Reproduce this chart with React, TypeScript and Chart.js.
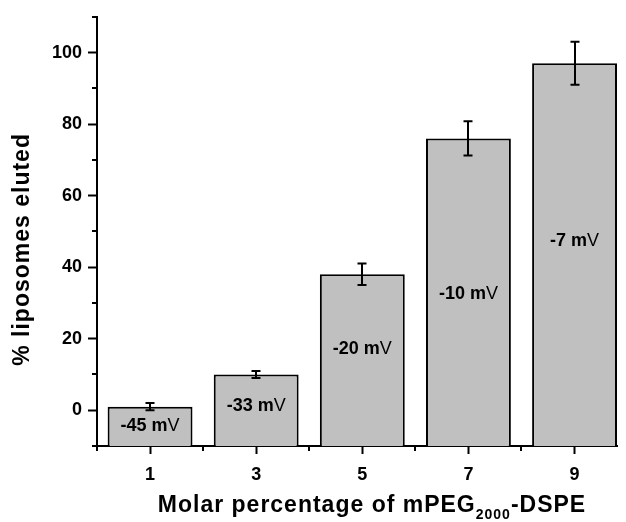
import React, { useEffect, useRef } from 'react';
import { Chart, registerables } from 'chart.js';

Chart.register(...registerables);

const categories = [1, 3, 5, 7, 9];
const eluted = [1, 10, 38, 76, 97];
const errors = [1, 1, 3, 4.8, 6];
const zetaLabels = ['-45 mV', '-33 mV', '-20 mV', '-10 mV', '-7 mV'];
const zetaLabelAt = [-4.5, 1.1, 17.2, 32.5, 47.4];
const xLabelValues = [1, 3, 5, 7, 9];
const xMinorValues = [0, 2, 4, 6, 8];
const yLabelValues = [0, 20, 40, 60, 80, 100];
const yMinorValues = [-10, 10, 30, 50, 70, 90, 110];
const xTitleMain = 'Molar percentage of mPEG';
const xTitleSub = '2000';
const xTitleEnd = '-DSPE';
const yTitle = '% liposomes eluted';

const FONT = '"Liberation Sans", Arial, Helvetica, sans-serif';

const overlay = {
  id: 'overlay',
  afterDatasetsDraw(chart: any) {
    const ctx = chart.ctx;
    const xs = chart.scales.x;
    const ys = chart.scales.y;
    ctx.save();
    ctx.strokeStyle = '#000';
    ctx.lineWidth = 2;
    categories.forEach((c, i) => {
      const px = Math.round(xs.getPixelForValue(c));
      const top = ys.getPixelForValue(eluted[i] + errors[i]);
      const bot = ys.getPixelForValue(eluted[i] - errors[i]);
      ctx.beginPath();
      ctx.moveTo(px, top);
      ctx.lineTo(px, bot);
      ctx.moveTo(px - 4.5, top);
      ctx.lineTo(px + 4.5, top);
      ctx.moveTo(px - 4.5, bot);
      ctx.lineTo(px + 4.5, bot);
      ctx.stroke();
    });
    ctx.fillStyle = '#000';
    ctx.textBaseline = 'middle';
    ctx.textAlign = 'left';
    zetaLabels.forEach((lab, i) => {
      const a = lab.slice(0, -1);
      const b = lab.slice(-1);
      ctx.font = `bold 18px ${FONT}`;
      const wa = ctx.measureText(a).width;
      ctx.font = `18px ${FONT}`;
      const wb = ctx.measureText(b).width;
      const cx = xs.getPixelForValue(categories[i]);
      const cy = ys.getPixelForValue(zetaLabelAt[i]);
      const sx = cx - (wa + wb) / 2;
      ctx.font = `bold 18px ${FONT}`;
      ctx.fillText(a, sx, cy);
      ctx.font = `18px ${FONT}`;
      ctx.fillText(b, sx + wa, cy);
    });
    ctx.restore();
  },
  afterDraw(chart: any) {
    const ctx = chart.ctx;
    const xs = chart.scales.x;
    const ys = chart.scales.y;
    const area = chart.chartArea;
    ctx.save();
    ctx.strokeStyle = '#000';
    ctx.lineWidth = 2;
    ctx.beginPath();
    yMinorValues.forEach((v) => {
      const py = Math.round(ys.getPixelForValue(v));
      ctx.moveTo(area.left - 5, py);
      ctx.lineTo(area.left, py);
    });
    xMinorValues.forEach((v) => {
      const px = Math.round(xs.getPixelForValue(v));
      ctx.moveTo(px, area.bottom);
      ctx.lineTo(px, area.bottom + 5);
    });
    ctx.stroke();

    // x title with subscript
    ctx.fillStyle = '#000';
    ctx.textBaseline = 'alphabetic';
    ctx.textAlign = 'left';
    (ctx as any).letterSpacing = '1px';
    ctx.font = `bold 23px ${FONT}`;
    const w1 = ctx.measureText(xTitleMain).width;
    const w3 = ctx.measureText(xTitleEnd).width;
    ctx.font = `bold 14px ${FONT}`;
    const w2 = ctx.measureText(xTitleSub).width;
    const total = w1 + w2 + w3;
    const cx = (area.left + area.right) / 2 + 15;
    let sx = cx - total / 2;
    const base = 512;
    ctx.font = `bold 23px ${FONT}`;
    ctx.fillText(xTitleMain, sx, base);
    sx += w1;
    ctx.font = `bold 14px ${FONT}`;
    ctx.fillText(xTitleSub, sx, base + 7);
    sx += w2;
    ctx.font = `bold 23px ${FONT}`;
    ctx.fillText(xTitleEnd, sx, base);

    // y title
    ctx.translate(23, (area.top + area.bottom) / 2 + 18);
    ctx.rotate(-Math.PI / 2);
    ctx.textAlign = 'center';
    ctx.textBaseline = 'middle';
    ctx.font = `bold 23px ${FONT}`;
    ctx.fillText(yTitle, 0, 0);
    ctx.restore();
  },
};

export default function App() {
  const ref = useRef<HTMLCanvasElement>(null);
  useEffect(() => {
    if (!ref.current) return;
    const chart = new Chart(ref.current, {
      type: 'bar',
      data: {
        datasets: [
          {
            data: categories.map((c, i) => ({ x: c, y: eluted[i] })),
            base: -10,
            backgroundColor: '#c0c0c0',
            borderColor: '#000',
            borderWidth: 2,
            categoryPercentage: 1,
            barPercentage: 0.8,
          } as any,
        ],
      },
      options: {
        responsive: false,
        animation: false,
        devicePixelRatio: 1,
        layout: { padding: { top: 15, right: 9, bottom: 0, left: 0 } },
        plugins: { legend: { display: false }, tooltip: { enabled: false } },
        scales: {
          x: {
            type: 'linear',
            min: 0,
            max: 9.8,
            offset: false,
            afterBuildTicks: (s: any) => {
              s.ticks = xLabelValues.map((v) => ({ value: v }));
            },
            afterFit: (s: any) => {
              s.height = 76;
            },
            grid: {
              display: true,
              drawOnChartArea: false,
              drawTicks: true,
              offset: false,
              tickLength: 8,
              tickWidth: 2,
              tickColor: '#000',
            },
            border: { display: true, color: '#000', width: 2 },
            ticks: {
              autoSkip: false,
              maxRotation: 0,
              minRotation: 0,
              padding: 10,
              color: '#000',
              font: { family: FONT, size: 18, weight: 'bold' },
              callback: (v: any) => String(v),
            },
          },
          y: {
            type: 'linear',
            min: -10,
            max: 110,
            afterBuildTicks: (s: any) => {
              s.ticks = yLabelValues.map((v) => ({ value: v }));
            },
            afterFit: (s: any) => {
              s.width = 97;
            },
            grid: {
              display: true,
              drawOnChartArea: false,
              drawTicks: true,
              tickLength: 9,
              tickWidth: 2,
              tickColor: '#000',
            },
            border: { display: true, color: '#000', width: 2 },
            ticks: {
              autoSkip: false,
              padding: 6,
              color: '#000',
              font: { family: FONT, size: 18, weight: 'bold' },
              callback: (v: any) => String(v),
            },
          },
        },
      } as any,
      plugins: [overlay],
    });
    return () => chart.destroy();
  }, []);
  return (
    <div style={{ position: 'fixed', left: 0, top: 0, width: 626, height: 522, background: '#fff' }}>
      <canvas ref={ref} width={626} height={522} style={{ display: 'block', width: 626, height: 522 }} />
    </div>
  );
}
